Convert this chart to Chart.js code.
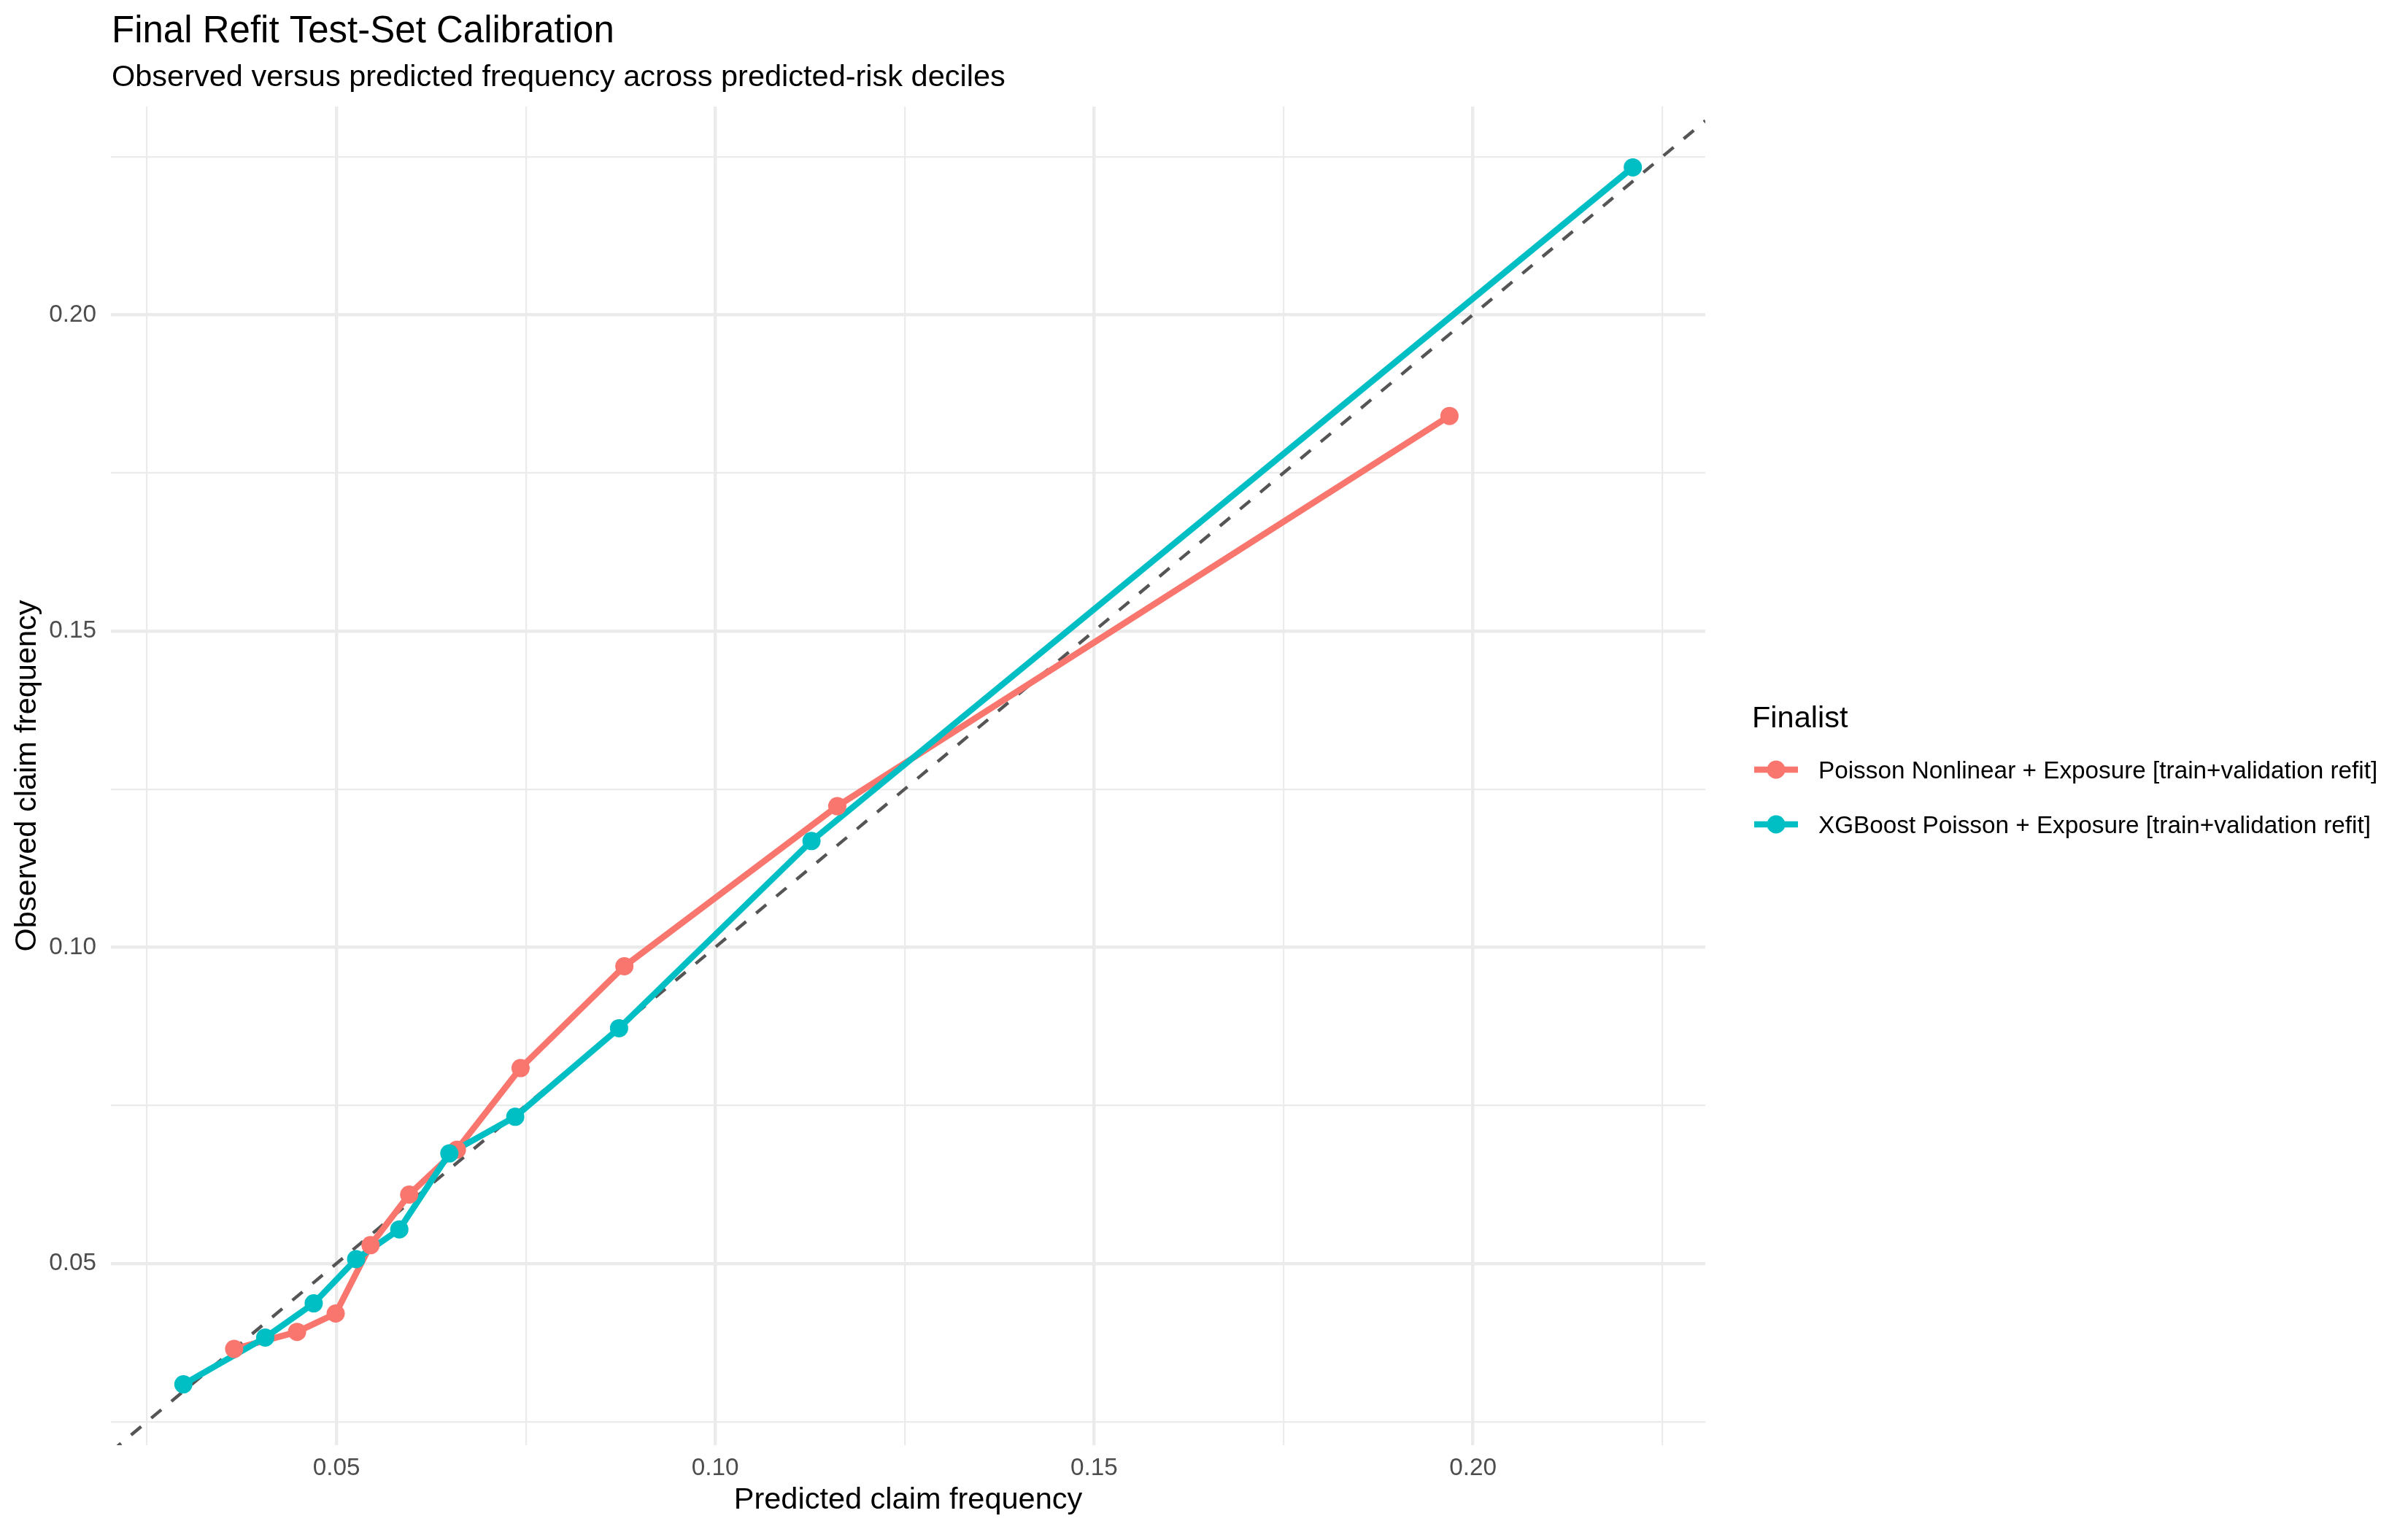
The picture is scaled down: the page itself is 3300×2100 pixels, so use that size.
<!DOCTYPE html>
<html>
<head>
<meta charset="utf-8">
<title>Final Refit Test-Set Calibration</title>
<script src="https://cdn.jsdelivr.net/npm/chart.js@4.4.1/dist/chart.umd.min.js"></script>
<style>
  html, body { margin: 0; padding: 0; background: #fff; }
  #wrap { width: 3300px; height: 2100px; }
</style>
</head>
<body>
<div id="wrap"><canvas id="calChart" width="3300" height="2100"></canvas></div>
<script>
// series labels (legend order)
const finalists = [
  'Poisson Nonlinear + Exposure [train+validation refit]',
  'XGBoost Poisson + Exposure [train+validation refit]'
];

// decile points: predicted (x) vs observed (y)
const poissonPredicted = [0.0365, 0.0448, 0.0499, 0.0545, 0.0596, 0.0659, 0.0743, 0.0880, 0.1161, 0.1969];
const poissonObserved  = [0.0365, 0.0392, 0.0421, 0.0529, 0.0609, 0.0680, 0.0809, 0.0970, 0.1223, 0.1840];
const xgbPredicted = [0.0298, 0.0406, 0.0470, 0.0526, 0.0583, 0.0649, 0.0736, 0.0873, 0.1127, 0.2211];
const xgbObserved  = [0.0309, 0.0383, 0.0437, 0.0507, 0.0554, 0.0674, 0.0732, 0.0872, 0.1168, 0.2233];

// axis ticks: labelled majors, plus the minor grid in between
const majorTicks = [0.05, 0.10, 0.15, 0.20];
const majorLabels = ['0.05', '0.10', '0.15', '0.20'];
const minorTicks = [0.025, 0.075, 0.125, 0.175, 0.225];

const RED = '#F8766D';
const TEAL = '#00BFC4';
const FONT = '"Liberation Sans", Arial, Helvetica, sans-serif';

function toPoints(xs, ys) {
  return xs.map((x, i) => ({x: x, y: ys[i]}));
}

// ggplot style 5% expansion of the data range
function expanded(values) {
  const lo = Math.min(...values), hi = Math.max(...values);
  const pad = (hi - lo) * 0.05;
  return [lo - pad, hi + pad];
}

const [xMin, xMax] = expanded(poissonPredicted.concat(xgbPredicted));
const [yMin, yMax] = expanded(poissonObserved.concat(xgbObserved));

const allTicks = minorTicks.concat(majorTicks).sort((a, b) => a - b);
const isMajor = v => majorTicks.some(m => Math.abs(m - v) < 1e-9);
function tickLabel(v) {
  const i = majorTicks.findIndex(m => Math.abs(m - v) < 1e-9);
  return i >= 0 ? majorLabels[i] : '';
}

function axisOptions(min, max, titleText) {
  return {
    type: 'linear',
    min: min,
    max: max,
    afterBuildTicks: scale => { scale.ticks = allTicks.map(v => ({value: v})); },
    ticks: {
      callback: value => tickLabel(value),
      color: '#4D4D4D',
      font: {size: 33.3, family: FONT},
      autoSkip: false,
      maxRotation: 0
    },
    grid: {
      color: '#EBEBEB',
      lineWidth: ctx => (ctx.tick && isMajor(ctx.tick.value)) ? 4.4 : 2.2,
      drawTicks: false
    },
    border: {display: false},
    title: {
      display: true,
      text: titleText,
      color: '#000',
      font: {size: 41.5, family: FONT}
    }
  };
}

const xAxis = axisOptions(xMin, xMax, 'Predicted claim frequency');
xAxis.position = 'bottom';
xAxis.ticks.padding = 12;
xAxis.title.padding = {top: 0, bottom: 19};
xAxis.afterFit = scale => { scale.height = 119; };

const yAxis = axisOptions(yMin, yMax, 'Observed claim frequency');
yAxis.position = 'left';
yAxis.ticks.padding = 20;
yAxis.title.padding = {top: 13, bottom: 0};
yAxis.afterFit = scale => { scale.width = 152; };

// titles and the ggplot-like legend on the right
const decorations = {
  id: 'decorations',
  afterDraw(chart) {
    const ctx = chart.ctx;
    ctx.save();
    ctx.fillStyle = '#000';
    ctx.textAlign = 'left';
    ctx.textBaseline = 'alphabetic';
    ctx.font = `51px ${FONT}`;
    ctx.fillText('Final Refit Test-Set Calibration', 153, 58);
    ctx.font = `41.5px ${FONT}`;
    ctx.fillText('Observed versus predicted frequency across predicted-risk deciles', 153, 117.5);

    ctx.fillText('Finalist', 2401, 997);
    const colors = [RED, TEAL];
    finalists.forEach((name, i) => {
      const cy = 1055 + i * 75;
      ctx.strokeStyle = colors[i];
      ctx.lineWidth = 8.5;
      ctx.beginPath();
      ctx.moveTo(2404, cy);
      ctx.lineTo(2464, cy);
      ctx.stroke();
      ctx.fillStyle = colors[i];
      ctx.beginPath();
      ctx.arc(2434, cy, 12.5, 0, Math.PI * 2);
      ctx.fill();
      ctx.fillStyle = '#000';
      ctx.font = `33.3px ${FONT}`;
      ctx.fillText(name, 2492, cy + 12);
    });
    ctx.restore();
  }
};

const lineStyle = {fill: false, tension: 0, borderWidth: 8.5, pointRadius: 0, pointHoverRadius: 0};
const pointStyle = {showLine: false, pointRadius: 12.5, pointHoverRadius: 12.5, pointBorderWidth: 0};

new Chart(document.getElementById('calChart'), {
  type: 'line',
  data: {
    datasets: [
      // perfect calibration reference, spans the whole panel
      {
        data: [{x: xMin, y: xMin}, {x: xMax, y: xMax}],
        borderColor: '#555555',
        borderWidth: 4.4,
        borderDash: [18, 18],
        pointRadius: 0,
        fill: false,
        clip: 0,
        order: 5
      },
      Object.assign({label: finalists[0], data: toPoints(poissonPredicted, poissonObserved),
        borderColor: RED, order: 4}, lineStyle),
      Object.assign({label: finalists[1], data: toPoints(xgbPredicted, xgbObserved),
        borderColor: TEAL, order: 3}, lineStyle),
      Object.assign({label: finalists[0], data: toPoints(poissonPredicted, poissonObserved),
        backgroundColor: RED, borderColor: RED, order: 2}, pointStyle),
      Object.assign({label: finalists[1], data: toPoints(xgbPredicted, xgbObserved),
        backgroundColor: TEAL, borderColor: TEAL, order: 1}, pointStyle)
    ]
  },
  options: {
    responsive: false,
    devicePixelRatio: 1,
    animation: false,
    layout: {padding: {top: 146, right: 963, bottom: 0, left: 0}},
    scales: {x: xAxis, y: yAxis},
    plugins: {
      legend: {display: false},
      tooltip: {enabled: false},
      title: {display: false}
    }
  },
  plugins: [decorations]
});
</script>
</body>
</html>
